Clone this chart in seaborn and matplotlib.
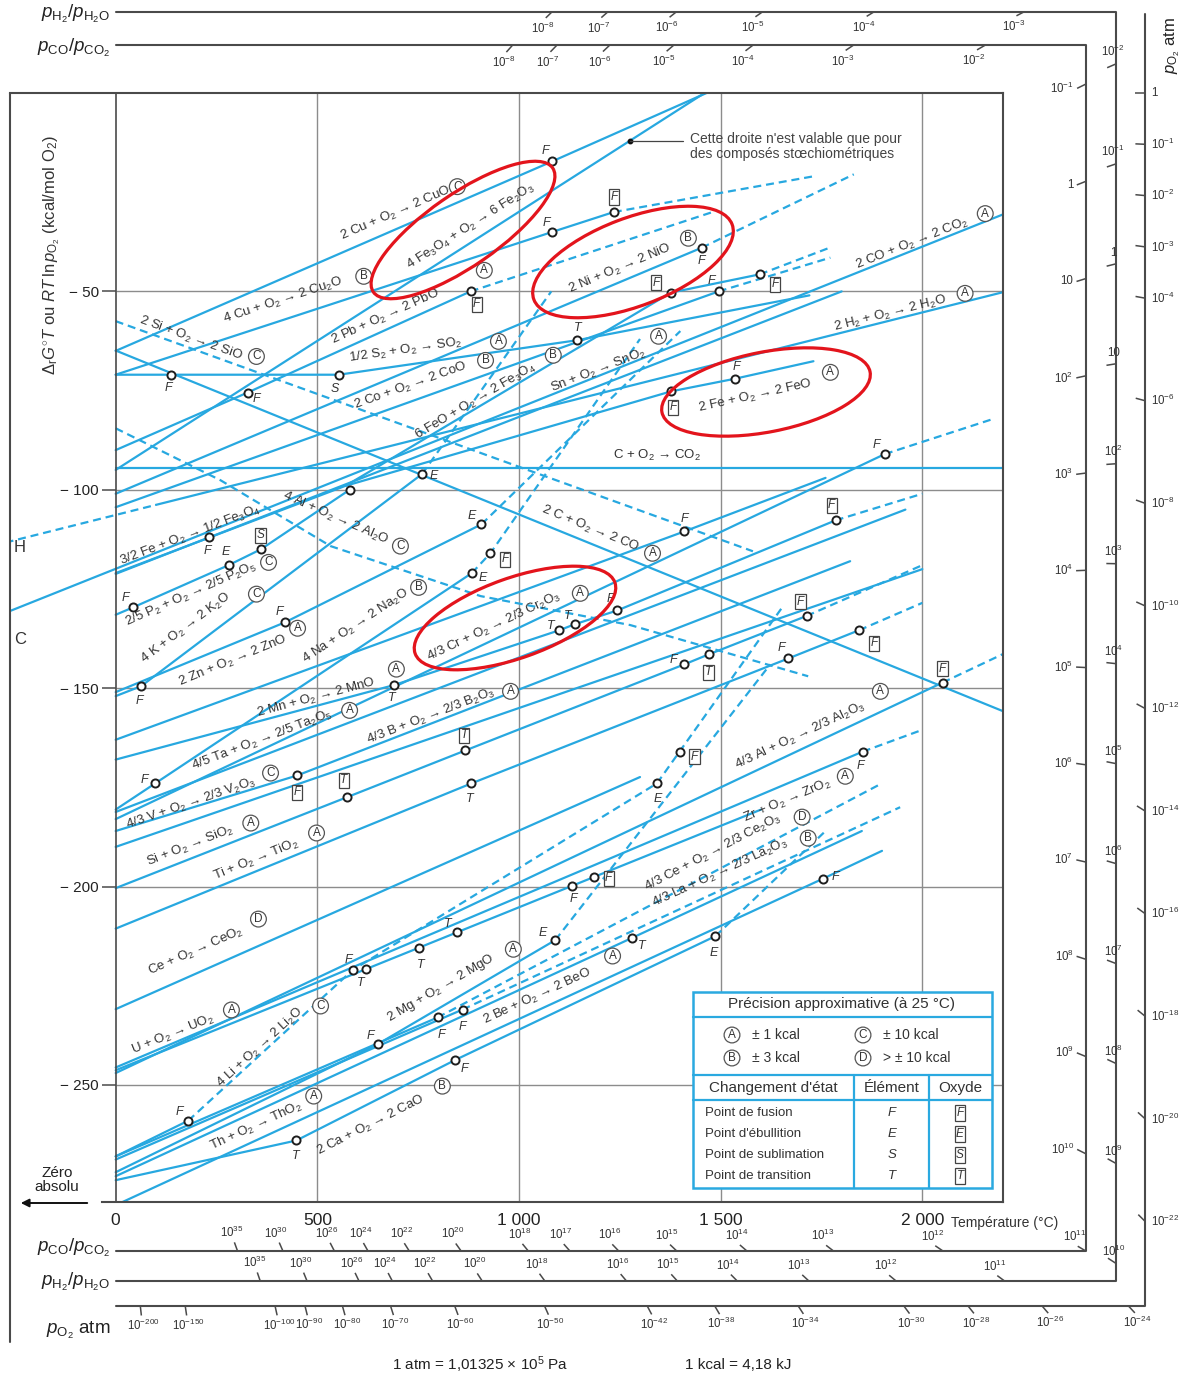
import numpy as np
import pandas as pd
import matplotlib
matplotlib.use("Agg")
import matplotlib.pyplot as plt
import seaborn as sns
from matplotlib.patches import Ellipse, Rectangle

# ====================== DATA (T in °C, ΔG in kcal/mol O2) ======================
# solid part T/G, dashed continuation dT/dG
CuO = dict(T=[0, 1083, 1465], G=[-65, -17.2, 0])
Cu2O = dict(T=[0, 1083, 1235], G=[-71, -35, -30], dT=[1235, 1730], dG=[-30, -21])
Fe2O3 = dict(T=[0, 1460], G=[-95, 0])
PbO = dict(T=[0, 327, 880], G=[-90, -75.5, -50], dT=[880, 1480], dG=[-50, -30])
NiO = dict(T=[0, 1453], G=[-101, -39], dT=[1453, 1830], dG=[-39, -20.5])
SO2 = dict(T=[0, 553, 1145, 1720], G=[-71, -71, -62.3, -51])
CoO = dict(T=[0, 1495], G=[-104.4, -50], dT=[1495, 1772], dG=[-50, -41.5])
Fe3O4 = dict(T=[570, 1377, 1597], G=[-99, -50.3, -45.7], dT=[1597, 1770], dG=[-45.7, -39])
FeO = dict(T=[570, 1377, 1536, 1730], G=[-99, -75.2, -72, -67.6])
Fe3O4b = dict(T=[0, 570], G=[-121, -99])
SnO2 = dict(T=[0, 232, 1800], G=[-121.2, -112, -50])
H2O = dict(T=[100, 2200], G=[-103.8, -50.2], dT=[-273, 100], dG=[-113.3, -103.8])
CO2 = dict(T=[-273, 2200], G=[-131, -30.6])
CO2C = dict(T=[0, 2200], G=[-94.5, -94.5])
CO = dict(T=[0, 2200], G=[-64.9, -155.8])
SiO = dict(T=[], G=[], dT=[0, 1580], dG=[-57.5, -115.5])
Al2O = dict(T=[], G=[], dT=[0, 260, 533, 905, 1276, 1717],
            dG=[-84.5, -97.6, -114.2, -126.8, -134.1, -147])
P2O5 = dict(T=[0, 44, 280, 360, 580], G=[-131.5, -129.6, -119, -115, -100])
K2O = dict(T=[0, 63, 760], G=[-152, -149.5, -96], dT=[760, 1080], dG=[-96, -50])
ZnO = dict(T=[0, 420, 907], G=[-151, -133.4, -108.7], dT=[907, 1400], dG=[-108.7, -60])
Na2O = dict(T=[0, 98, 883], G=[-180.6, -174, -121], dT=[883, 929, 1300], dG=[-121, -116, -62])
MnO = dict(T=[0, 691, 1100, 1138, 1244, 1785], G=[-168, -149.2, -135.4, -133.9, -130.4, -107.7],
           dT=[1785, 2000], dG=[-107.7, -101])
Cr2O3 = dict(T=[0, 1907], G=[-183, -91], dT=[1907, 2180], dG=[-91, -82])
XSi = dict(T=[0, 1410, 1760], G=[-163, -110.5, -97])
Ta2O5 = dict(T=[0, 1958], G=[-181.2, -105])
B2O3 = dict(T=[0, 450, 1821], G=[-186, -172, -118])
V2O3 = dict(T=[0, 2000], G=[-190, -120])
SiO2 = dict(T=[0, 573, 867, 1410, 1470, 1713], G=[-200.4, -177.5, -165.7, -144, -141.5, -131.8],
            dT=[1713, 2000], dG=[-131.8, -119])
TiO2 = dict(T=[0, 882, 1668, 1843], G=[-210.6, -174, -142.5, -135.4], dT=[1843, 2000], dG=[-135.4, -128.5])
Al2O3 = dict(T=[0, 2050], G=[-247, -148.6], dT=[2050, 2200], dG=[-148.6, -141.4])
ZrO2 = dict(T=[0, 1852], G=[-245.6, -166], dT=[1852, 2000], dG=[-166, -160.5])
Ce2O3 = dict(T=[0, 798], G=[-268, -233], dT=[798, 1890], dG=[-233, -174.5])
La2O3 = dict(T=[0, 860], G=[-268.8, -231], dT=[860, 1945], dG=[-231, -180])
BeO = dict(T=[0, 1279, 1850], G=[-273, -213, -186])
MgO = dict(T=[0, 650, 1090], G=[-272, -239.7, -213.5], dT=[1090, 1623], dG=[-213.5, -144])
CaO = dict(T=[0, 448, 842, 1487], G=[-274, -264, -243.7, -212.5], dT=[1487, 1760], dG=[-212.5, -186])
ThO2 = dict(T=[0, 1754, 1900], G=[-280.3, -198, -191])
UO2 = dict(T=[0, 1132, 1600], G=[-246.3, -199.8, -180.6])
Li2O = dict(T=[0, 180], G=[-268, -259], dT=[180, 588, 1342, 1650], dG=[-259, -221, -174, -130])
CeO2 = dict(T=[0, 1300], G=[-230.9, -172.4])

REACTIONS = dict(CuO=CuO, Cu2O=Cu2O, Fe2O3=Fe2O3, PbO=PbO, NiO=NiO, SO2=SO2, CoO=CoO, Fe3O4=Fe3O4,
                 FeO=FeO, Fe3O4b=Fe3O4b, SnO2=SnO2, H2O=H2O, CO2=CO2, CO2C=CO2C, CO=CO, SiO=SiO,
                 Al2O=Al2O, P2O5=P2O5, K2O=K2O, ZnO=ZnO, Na2O=Na2O, MnO=MnO, Cr2O3=Cr2O3, XSi=XSi,
                 Ta2O5=Ta2O5, B2O3=B2O3, V2O3=V2O3, SiO2=SiO2, TiO2=TiO2, Al2O3=Al2O3, ZrO2=ZrO2,
                 Ce2O3=Ce2O3, La2O3=La2O3, BeO=BeO, MgO=MgO, CaO=CaO, ThO2=ThO2, UO2=UO2, Li2O=Li2O,
                 CeO2=CeO2)

LABELS = {
    'CuO': '2 Cu + O$_2$ → 2 CuO', 'Cu2O': '4 Cu + O$_2$ → 2 Cu$_2$O',
    'Fe2O3': '4 Fe$_3$O$_4$ + O$_2$ → 6 Fe$_2$O$_3$', 'PbO': '2 Pb + O$_2$ → 2 PbO',
    'SO2': '1/2 S$_2$ + O$_2$ → SO$_2$', 'CoO': '2 Co + O$_2$ → 2 CoO',
    'Fe3O4': '6 FeO + O$_2$ → 2 Fe$_3$O$_4$', 'SnO2': 'Sn + O$_2$ → SnO$_2$',
    'NiO': '2 Ni + O$_2$ → 2 NiO', 'FeO': '2 Fe + O$_2$ → 2 FeO', 'CO2C': 'C + O$_2$ → CO$_2$',
    'CO2': '2 CO + O$_2$ → 2 CO$_2$', 'H2O': '2 H$_2$ + O$_2$ → 2 H$_2$O',
    'SiO': '2 Si + O$_2$ → 2 SiO', 'Al2O': '4 Al + O$_2$ → 2 Al$_2$O', 'CO': '2 C + O$_2$ → 2 CO',
    'Fe3O4b': '3/2 Fe + O$_2$ → 1/2 Fe$_3$O$_4$', 'P2O5': '2/5 P$_2$ + O$_2$ → 2/5 P$_2$O$_5$',
    'K2O': '4 K + O$_2$ → 2 K$_2$O', 'ZnO': '2 Zn + O$_2$ → 2 ZnO', 'Na2O': '4 Na + O$_2$ → 2 Na$_2$O',
    'Cr2O3': '4/3 Cr + O$_2$ → 2/3 Cr$_2$O$_3$', 'MnO': '2 Mn + O$_2$ → 2 MnO',
    'Ta2O5': '4/5 Ta + O$_2$ → 2/5 Ta$_2$O$_5$', 'B2O3': '4/3 B + O$_2$ → 2/3 B$_2$O$_3$',
    'V2O3': '4/3 V + O$_2$ → 2/3 V$_2$O$_3$', 'SiO2': 'Si + O$_2$ → SiO$_2$', 'TiO2': 'Ti + O$_2$ → TiO$_2$',
    'Al2O3': '4/3 Al + O$_2$ → 2/3 Al$_2$O$_3$', 'ZrO2': 'Zr + O$_2$ → ZrO$_2$',
    'Ce2O3': '4/3 Ce + O$_2$ → 2/3 Ce$_2$O$_3$', 'La2O3': '4/3 La + O$_2$ → 2/3 La$_2$O$_3$',
    'CeO2': 'Ce + O$_2$ → CeO$_2$', 'UO2': 'U + O$_2$ → UO$_2$', 'Li2O': '4 Li + O$_2$ → 2 Li$_2$O',
    'MgO': '2 Mg + O$_2$ → 2 MgO', 'BeO': '2 Be + O$_2$ → 2 BeO', 'ThO2': 'Th + O$_2$ → ThO$_2$',
    'CaO': '2 Ca + O$_2$ → 2 CaO'}

QUALITY = {'CuO': 'C', 'Cu2O': 'B', 'PbO': 'A', 'SO2': 'A', 'CoO': 'B', 'Fe3O4': 'B', 'SnO2': 'A',
           'NiO': 'B', 'FeO': 'A', 'CO2': 'A', 'H2O': 'A', 'SiO': 'C', 'Al2O': 'C', 'CO': 'A',
           'P2O5': 'C', 'K2O': 'C', 'ZnO': 'A', 'Na2O': 'B', 'Cr2O3': 'A', 'MnO': 'A', 'Ta2O5': 'A',
           'B2O3': 'A', 'V2O3': 'C', 'SiO2': 'A', 'TiO2': 'A', 'Al2O3': 'A', 'ZrO2': 'A', 'Ce2O3': 'D',
           'La2O3': 'B', 'CeO2': 'D', 'UO2': 'A', 'Li2O': 'C', 'MgO': 'A', 'BeO': 'A', 'ThO2': 'A',
           'CaO': 'B'}

# changes of state: (reaction, T °C, code)  code "X" = element, "[X]" = oxide, "" = plain point
MARKERS = [
    ('CuO', 1083, 'F'), ('Cu2O', 1083, 'F'), ('Cu2O', 1235, '[F]'),
    ('PbO', 327, 'F'), ('PbO', 880, '[F]'), ('NiO', 1453, 'F'),
    ('SO2', 136, 'F'), ('SO2', 553, 'S'), ('SO2', 1145, 'T'),
    ('CoO', 1495, 'F'), ('Fe3O4', 1377, '[F]'), ('Fe3O4', 1597, '[F]'),
    ('FeO', 1377, '[F]'), ('FeO', 1536, 'F'), ('SnO2', 232, 'F'),
    ('P2O5', 44, 'F'), ('P2O5', 280, 'E'), ('P2O5', 360, '[S]'), ('P2O5', 580, ''),
    ('K2O', 63, 'F'), ('K2O', 760, 'E'), ('ZnO', 420, 'F'), ('ZnO', 907, 'E'),
    ('Na2O', 98, 'F'), ('Na2O', 883, 'E'), ('Na2O', 929, '[F]'),
    ('MnO', 691, 'T'), ('MnO', 1100, 'T'), ('MnO', 1138, 'T'), ('MnO', 1244, 'F'), ('MnO', 1785, '[F]'),
    ('Cr2O3', 1907, 'F'), ('XSi', 1410, 'F'), ('B2O3', 450, '[F]'),
    ('SiO2', 573, '[T]'), ('SiO2', 867, '[T]'), ('SiO2', 1410, 'F'), ('SiO2', 1470, '[T]'), ('SiO2', 1713, '[F]'),
    ('TiO2', 882, 'T'), ('TiO2', 1668, 'F'), ('TiO2', 1843, '[F]'),
    ('Al2O3', 2050, '[F]'), ('ZrO2', 1852, 'F'), ('Ce2O3', 798, 'F'), ('La2O3', 860, 'F'),
    ('BeO', 1279, 'T'), ('MgO', 650, 'F'), ('MgO', 1090, 'E'),
    ('CaO', 448, 'T'), ('CaO', 842, 'F'), ('CaO', 1487, 'E'), ('ThO2', 1754, 'F'),
    ('UO2', 620, 'T'), ('UO2', 751, 'T'), ('UO2', 847, 'T'), ('UO2', 1132, 'F'), ('UO2', 1185, '[F]'),
    ('Li2O', 180, 'F'), ('Li2O', 588, 'F'), ('Li2O', 1342, 'E'), ('Li2O', 1398, '[F]'),
]
STOICH_T = 1276  # point annotated on the Fe3O4/Fe2O3 line

# nomogram tick values (exponents of 10)
CO_TOP = [-8, -7, -6, -5, -4, -3, -2]
CO_RIGHT = [-1, 0, 1, 2, 3, 4, 5, 6, 7, 8, 9, 10]
CO_BOTTOM = [35, 30, 26, 24, 22, 20, 18, 17, 16, 15, 14, 13, 12, 11]
H2_TOP = [-8, -7, -6, -5, -4, -3]
H2_RIGHT = [-2, -1, 0, 1, 2, 3, 4, 5, 6, 7, 8, 9, 10]
H2_BOTTOM = [35, 30, 26, 24, 22, 20, 18, 16, 15, 14, 13, 12, 11]
O2_RIGHT = [0, -1, -2, -3, -4, -6, -8, -10, -12, -14, -16, -18, -20, -22]
O2_BOTTOM = [-200, -150, -100, -90, -80, -70, -60, -50, -42, -38, -34, -30, -28, -26, -24]

X_TICKS = [0, 500, 1000, 1500, 2000]
X_TICKLABELS = ['0', '500', '1 000', '1 500', '2 000']
Y_TICKS = [-50, -100, -150, -200, -250]
Y_TICKLABELS = ['− 50', '− 100', '− 150', '− 200', '− 250']

# ====================== LAYOUT / STYLE ======================
LABEL_AT = {
    'CuO': (694, -30.4), 'Cu2O': (416, -52.3), 'Fe2O3': (880, -33.6), 'PbO': (669, -56.3),
    'SO2': (719, -64.9), 'CoO': (731, -73.7), 'Fe3O4': (892, -77.7), 'SnO2': (1197, -69.9),
    'NiO': (1251, -44.2), 'FeO': (1586, -76.5), 'CO2C': (1343, -91.3), 'CO2': (1975, -37.9),
    'H2O': (1920, -55.5), 'SiO': (186, -61.8), 'Al2O': (545, -107.2), 'CO': (1177, -109.7),
    'Fe3O4b': (186, -111.5), 'P2O5': (186, -126.3), 'K2O': (173, -134.9), 'ZnO': (290, -143.2),
    'Na2O': (595, -134.4), 'Cr2O3': (937, -134.4), 'MnO': (496, -152.5), 'Ta2O5': (364, -163.1),
    'B2O3': (781, -157.1), 'V2O3': (186, -179), 'SiO2': (186, -189.8), 'TiO2': (349, -193.3),
    'Al2O3': (1697, -162), 'ZrO2': (1665, -178.5), 'Ce2O3': (1482, -191.6), 'La2O3': (1499, -196.6),
    'CeO2': (198, -216.3), 'UO2': (141, -237.2), 'Li2O': (359, -240.7), 'MgO': (805, -225.6),
    'BeO': (1046, -227.6), 'ThO2': (347, -260.3), 'CaO': (632, -260.1)}
QUALITY_AT = {
    'CuO': (847, -23.6), 'Cu2O': (615, -46.2), 'PbO': (914, -44.7), 'SO2': (949, -62.6),
    'CoO': (917, -67.4), 'Fe3O4': (1085, -66.1), 'SnO2': (1346, -61.3), 'NiO': (1420, -36.6),
    'FeO': (1772, -70.4), 'CO2': (2156, -30.4), 'H2O': (2106, -50.5), 'SiO': (349, -66.4),
    'Al2O': (706, -114.2), 'CO': (1331, -116), 'P2O5': (379, -118.3), 'K2O': (349, -126.3),
    'ZnO': (451, -134.9), 'Na2O': (751, -124.6), 'Cr2O3': (1152, -126.1), 'MnO': (696, -145.2),
    'Ta2O5': (580, -155.6), 'B2O3': (979, -150.8), 'V2O3': (384, -171.4), 'SiO2': (335, -184),
    'TiO2': (498, -186.5), 'Al2O3': (1896, -150.8), 'ZrO2': (1809, -172.2), 'Ce2O3': (1702, -182.5),
    'La2O3': (1717, -187.8), 'CeO2': (354, -208.2), 'UO2': (287, -231.1), 'Li2O': (508, -230.1),
    'MgO': (986, -215.8), 'BeO': (1232, -217.5), 'ThO2': (491, -252.8), 'CaO': (810, -250.3)}
MARKER_OFFSETS = [
    (-7, 10), (-6, 9), (0, 15), (9, -6), (6, -13), (0, -13), (-2, -13), (-4, -14), (0, 12),
    (-7, 10), (-15, 10), (15, -10), (2, -16), (1, 12), (-2, -14), (-8, 9), (-3, 13), (0, 14), (0, 0),
    (-2, -15), (12, -2), (-6, 10), (-10, 8), (-11, 3), (11, -5), (15, -6),
    (-3, -13), (-9, 4), (-7, 8), (-7, 11), (-4, 15), (-8, 9), (0, 12), (0, -17),
    (-3, 17), (-1, 15), (-11, 4), (0, -18), (-6, 14), (-2, -16), (-7, 10), (15, -13),
    (0, 14), (-2, -14), (4, -18), (0, -17), (10, -8), (-7, 8), (-13, 7),
    (-1, -16), (9, -9), (-2, -17), (12, 2), (-5, -14), (2, -17), (-10, 8), (1, -13), (15, -1),
    (-9, 9), (-4, 10), (1, -16), (15, -5)]
assert len(MARKER_OFFSETS) == len(MARKERS)

BLUE = '#27a8e0'
FRAME = '#4a4a4a'
GRID = '#8c8c8c'
TXT = '#333333'
RED = '#e3141c'

sns.set_theme(style="white")
plt.rcParams['font.family'] = ['Liberation Sans', 'DejaVu Sans']
plt.rcParams['mathtext.fontset'] = 'custom'
plt.rcParams['mathtext.rm'] = 'Liberation Sans'
plt.rcParams['mathtext.it'] = 'Liberation Sans:italic'
plt.rcParams['mathtext.bf'] = 'Liberation Sans:bold'
plt.rcParams['mathtext.sf'] = 'Liberation Sans'

W, H = 1192, 1378
fig = plt.figure(figsize=(W / 100, H / 100), dpi=100, facecolor='white')
ax = fig.add_axes([10 / W, 1 - 1202 / H, 993 / W, 1109 / H])
XMIN, XMAX, YMIN, YMAX = -262, 2200, -279.5, 0

# ---------- reaction lines (seaborn) ----------
rows = []
for name, r in REACTIONS.items():
    for t, g in zip(r['T'], r['G']):
        rows.append((name + '_s', 'solid', t, g))
    for t, g in zip(r.get('dT', []), r.get('dG', [])):
        rows.append((name + '_d', 'dashed', t, g))
df = pd.DataFrame(rows, columns=['seg', 'kind', 'T', 'G'])
sns.lineplot(data=df, x='T', y='G', units='seg', estimator=None, style='kind',
             dashes={'solid': '', 'dashed': (3.6, 2.2)}, color=BLUE, lw=1.6,
             legend=False, sort=False, ax=ax, zorder=2)

ax.set_xlim(XMIN, XMAX)
ax.set_ylim(YMIN, YMAX)
ax.set_xlabel('')
ax.set_ylabel('')

# ---------- grid / frame ----------
ax.vlines(X_TICKS[1:], YMIN, YMAX, color=GRID, lw=1.0, zorder=1)
ax.hlines(Y_TICKS, 0, XMAX, color=GRID, lw=1.0, zorder=1)
for s in ['top', 'right']:
    ax.spines[s].set_color(FRAME)
    ax.spines[s].set_linewidth(1.5)
ax.spines['left'].set_position(('data', 0))
ax.spines['left'].set_color(FRAME)
ax.spines['left'].set_linewidth(1.2)
ax.spines['bottom'].set_bounds(-35, XMAX)
ax.spines['bottom'].set_color(FRAME)
ax.spines['bottom'].set_linewidth(1.5)
ax.set_xticks(X_TICKS)
ax.set_xticklabels(X_TICKLABELS, fontsize=12.5, color='#222')
ax.set_yticks(Y_TICKS)
ax.set_yticklabels(Y_TICKLABELS, fontsize=11, color='#222')
ax.tick_params(axis='x', bottom=True, length=0, pad=8)
ax.tick_params(axis='y', left=True, length=10, width=1.1, color=FRAME, pad=2, direction='out')


def curve(name):
    r = REACTIONS[name]
    T = np.array(list(r['T']) + list(r.get('dT', [])), float)
    G = np.array(list(r['G']) + list(r.get('dG', [])), float)
    o = np.argsort(T, kind='stable')
    return T[o], G[o]


def g_at(name, t):
    T, G = curve(name)
    return float(np.interp(t, T, G))


def to_px(T, G):
    return ax.transData.transform((T, G))


def to_data(p):
    return ax.transData.inverted().transform(p)


def angle_at(name, t):
    T, G = curve(name)
    t1, t2 = max(t - 60, T.min()), min(t + 60, T.max())
    p1 = to_px(t1, g_at(name, t1))
    p2 = to_px(t2, g_at(name, t2))
    return np.degrees(np.arctan2(p2[1] - p1[1], p2[0] - p1[0]))


# ---------- markers (seaborn) ----------
mdf = pd.DataFrame([(n, t, c, g_at(n, t)) for n, t, c in MARKERS], columns=['r', 'T', 'code', 'G'])
sns.scatterplot(data=mdf, x='T', y='G', marker='o', s=34, color='white', edgecolor='#1e1e1e',
                linewidth=1.4, zorder=6, ax=ax, legend=False)
ax.set_xlabel('')
ax.set_ylabel('')
for (n, t, c, g), (dx, dy) in zip(mdf.itertuples(index=False), MARKER_OFFSETS):
    if not c:
        continue
    if c.startswith('['):
        ax.annotate(c[1], (t, g), xytext=(dx, dy), textcoords='offset pixels', ha='center', va='center',
                    fontsize=8.5, style='italic', color=TXT, zorder=7,
                    bbox=dict(boxstyle='square,pad=0.13', fc='white', ec='#444', lw=0.9))
    else:
        ax.annotate(c, (t, g), xytext=(dx, dy), textcoords='offset pixels', ha='center', va='center',
                    fontsize=9, style='italic', color=TXT, zorder=7)

# ---------- reaction labels ----------
for name, txt in LABELS.items():
    t, g = LABEL_AT[name]
    ax.text(t, g, txt, rotation=angle_at(name, t), rotation_mode='anchor', ha='center', va='center',
            fontsize=9.5, color=TXT, zorder=4)
for name, q in QUALITY.items():
    t, g = QUALITY_AT[name]
    ax.text(t, g, q, ha='center', va='center', fontsize=8.5, color=TXT, zorder=5,
            bbox=dict(boxstyle='circle,pad=0.16', fc='white', ec='#555', lw=0.9))

# stoichiometry annotation point
gs = g_at('Fe2O3', STOICH_T)
ax.plot([STOICH_T], [gs], 'o', ms=3.2, color='#111', zorder=6)
ax.plot([STOICH_T, STOICH_T + 130], [gs, gs], color='#444', lw=0.9, zorder=6)

# ---------- nomographic scales ----------
R_LN10 = 1.987e-3 * np.log(10)
C_pt = (CO2['T'][0], CO2['G'][0])
a_C = (CO2['G'][-1] - CO2['G'][0]) / (CO2['T'][-1] - CO2['T'][0])
H_pt = (H2O['dT'][0], H2O['dG'][0])
a_H = (H2O['G'][-1] - H2O['dG'][0]) / (H2O['T'][-1] - H2O['dT'][0])
O_pt = (-273.0, 0.0)

CO_TOPG, CO_RT, CO_BOTG = 12.0, 2406.0, -291.8
H2_TOPG, H2_RT, H2_BOTG = 20.5, 2481.0, -299.4
O2_TOPG, O2_RT, O2_BOTG = 20.0, 2553.0, -305.6

for xs, ys in [([0, CO_RT, CO_RT, 0], [CO_TOPG, CO_TOPG, CO_BOTG, CO_BOTG]),
               ([0, H2_RT, H2_RT, 0], [H2_TOPG, H2_TOPG, H2_BOTG, H2_BOTG]),
               ([O2_RT, O2_RT, 0], [O2_TOPG, O2_BOTG, O2_BOTG])]:
    ax.plot(xs, ys, color=FRAME, lw=1.5, clip_on=False, zorder=3)


def fmt(k):
    if k == 0:
        return '1'
    if k == 1:
        return '10'
    return r'$10^{%d}$' % k


def tick(P, F, L=9.0, sign=1.0):
    p = to_px(*P)
    f = to_px(*F)
    u = (f - p) / np.hypot(*(f - p))
    e = p + sign * L * u
    a, b = to_data(p), to_data(e)
    ax.plot([a[0], b[0]], [a[1], b[1]], color=FRAME, lw=1.1, clip_on=False, solid_capstyle='butt')
    return p, e


def lab(px, off, s, ha, va, fs=8.3):
    q = to_data(np.asarray(px) + np.asarray(off, float))
    ax.text(q[0], q[1], s, ha=ha, va=va, fontsize=fs, color=TXT, clip_on=False)


def ray_slope(a, c, k):
    return a + c * k


for (F, a, c, top_g, right_t, bot_g, tops, rights, bots, rstyle) in [
        (C_pt, a_C, -2 * R_LN10, CO_TOPG, CO_RT, CO_BOTG, CO_TOP, CO_RIGHT, CO_BOTTOM, 'co'),
        (H_pt, a_H, -2 * R_LN10, H2_TOPG, H2_RT, H2_BOTG, H2_TOP, H2_RIGHT, H2_BOTTOM, 'h2')]:
    for k in tops:
        t = F[0] + (top_g - F[1]) / ray_slope(a, c, k)
        p, e = tick((t, top_g), F)
        lab(e, (-3, -3), fmt(k), 'center', 'top')
    for k in rights:
        g = F[1] + (right_t - F[0]) * ray_slope(a, c, k)
        p, e = tick((right_t, g), F, L=10)
        if rstyle == 'co':
            lab(e, (-3, 0), fmt(k), 'right', 'center')
        else:
            lab(p, (-3, 5), fmt(k), 'center', 'bottom')
    for k in bots:
        t = F[0] + (bot_g - F[1]) / ray_slope(a, c, k)
        p, e = tick((t, bot_g), F)
        lab(e, (-3, 2), fmt(k), 'center', 'bottom')

for k in O2_RIGHT:
    g = O_pt[1] + (O2_RT - O_pt[0]) * R_LN10 * k
    p, e = tick((O2_RT, g), O_pt, L=10)
    lab(p, (6, 0), fmt(k), 'left', 'center')
for k in O2_BOTTOM:
    t = O_pt[0] + (O2_BOTG - O_pt[1]) / (R_LN10 * k)
    p, e = tick((t, O2_BOTG), O_pt, L=10, sign=-1)
    lab(e, (2, -2), fmt(k), 'center', 'top')

# ====================== decorations (pixel overlay) ======================
deco = fig.add_axes([0, 0, 1, 1], zorder=10)
deco.set_xlim(0, W)
deco.set_ylim(H, 0)
deco.axis('off')
deco.patch.set_alpha(0)

deco.plot([10, 10], [93, 1342], color=FRAME, lw=1.5)
deco.text(52, 255, r'$\Delta_{\mathrm{r}}G^{\circ}T$ ou $RT\,\mathrm{ln}\,p_{\mathrm{O_2}}$ (kcal/mol O$_2$)',
          rotation=90, ha='center', va='center', fontsize=12, color=TXT)
deco.text(20, 548, 'H', ha='center', va='center', fontsize=12, color=TXT)
deco.text(20, 640, 'C', ha='center', va='center', fontsize=12, color=TXT)
deco.text(57, 1180, 'Zéro\nabsolu', ha='center', va='center', fontsize=11, color='#222', linespacing=1.05)
deco.annotate('', xy=(18, 1203), xytext=(90, 1203),
              arrowprops=dict(arrowstyle='-|>', color='#111', lw=1.4, mutation_scale=12))
deco.text(951, 1223, 'Température (°C)', ha='left', va='center', fontsize=10, color=TXT)

PH = r'$p_{\mathrm{H_2}}/p_{\mathrm{H_2O}}$'
PC = r'$p_{\mathrm{CO}}/p_{\mathrm{CO_2}}$'
PO = r'$p_{\mathrm{O_2}}$ atm'
for y, s in [(14, PH), (48, PC), (1248, PC), (1282, PH), (1330, PO)]:
    deco.text(110, y, s, ha='right', va='center', fontsize=13.5, color='#222')
deco.text(1172, 45, PO, rotation=90, ha='center', va='center', fontsize=12, color='#222')

deco.text(480, 1365, r'1 atm = 1,01325 $\times$ 10$^5$ Pa', ha='center', va='center', fontsize=11, color='#222')
deco.text(738, 1365, '1 kcal = 4,18 kJ', ha='center', va='center', fontsize=11, color='#222')

deco.text(690, 139, "Cette droite n'est valable que pour", ha='left', va='center', fontsize=10, color='#444')
deco.text(690, 154, 'des composés stœchiométriques', ha='left', va='center', fontsize=10, color='#444')

# red highlight ellipses
for (cx, cy, w, h, ang) in [(463, 230, 218, 72, -34.7), (633, 262, 212, 88, -20.8),
                            (766, 392, 212, 80, -11.0), (515, 618, 212, 80, -19.6)]:
    deco.add_patch(Ellipse((cx, cy), w, h, angle=ang, fill=False, ec=RED, lw=2.3))

# legend table
CY = '#2aa9e0'
deco.add_patch(Rectangle((693, 992), 299, 196, fc='white', ec=CY, lw=1.8))
for y in (1017, 1075, 1100):
    deco.plot([693, 992], [y, y], color=CY, lw=1.6)
for x in (854, 929):
    deco.plot([x, x], [1075, 1188], color=CY, lw=1.6)
deco.text(842, 1004, 'Précision approximative (à 25 °C)', ha='center', va='center', fontsize=11, color=TXT)
circ = dict(boxstyle='circle,pad=0.16', fc='white', ec='#555', lw=0.9)
for x, y, L, s in [(732, 1035, 'A', '± 1 kcal'), (863, 1035, 'C', '± 10 kcal'),
                   (732, 1058, 'B', '± 3 kcal'), (863, 1058, 'D', '> ± 10 kcal')]:
    deco.text(x, y, L, ha='center', va='center', fontsize=8.5, color=TXT, bbox=circ)
    deco.text(x + 20, y, s, ha='left', va='center', fontsize=10, color=TXT)
deco.text(773, 1088, "Changement d'état", ha='center', va='center', fontsize=11, color=TXT)
deco.text(892, 1088, 'Élément', ha='center', va='center', fontsize=11, color=TXT)
deco.text(960, 1088, 'Oxyde', ha='center', va='center', fontsize=11, color=TXT)
for y, s, L in [(1113, 'Point de fusion', 'F'), (1134, "Point d'ébullition", 'E'),
                (1155, 'Point de sublimation', 'S'), (1176, 'Point de transition', 'T')]:
    deco.text(705, y, s, ha='left', va='center', fontsize=9.5, color=TXT)
    deco.text(892, y, L, ha='center', va='center', fontsize=9.5, style='italic', color=TXT)
    deco.text(960, y, L, ha='center', va='center', fontsize=8.5, style='italic', color=TXT,
              bbox=dict(boxstyle='square,pad=0.13', fc='white', ec='#444', lw=0.9))

fig.savefig('out.png', dpi=100)
